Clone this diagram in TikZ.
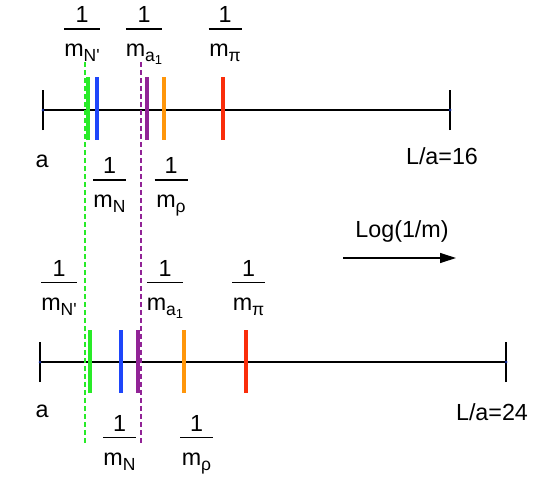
\documentclass[tikz,border=0pt]{standalone}
\usepackage{amsmath}
\usepackage{fontspec}
\setmainfont{Liberation Sans}
\usetikzlibrary{arrows.meta, positioning}

\definecolor{nprime}{RGB}{40,235,40}
\definecolor{nucleon}{RGB}{30,70,250}
\definecolor{aone}{RGB}{145,35,150}
\definecolor{rho}{RGB}{255,150,10}
\definecolor{pion}{RGB}{250,45,10}

% one over a mass, with a bar of fixed width
\newcommand{\invm}[1]{$\genfrac{}{}{1.3pt}{0}
    {\makebox[33pt]{\raisebox{-4.5pt}{1}}}
    {\raisebox{-4.5pt}{m\raisebox{-5pt}{\fontsize{17.5}{20}\selectfont #1}}}$}
\newcommand{\subone}{\raisebox{-3pt}{\fontsize{13}{15}\selectfont 1}}

\begin{document}
\begin{tikzpicture}[x=1pt, y=-1pt, font=\fontsize{23.3}{27}\selectfont,
    axis/.style={line width=1.2pt},
    massbar/.style={line width=4.8pt},
    guide/.style={line width=1.3pt, dash pattern=on 5pt off 3pt}]
    \useasboundingbox (0,0) rectangle (535,479);

    % L/a = 16
    \coordinate (Top Left)  at (43,110);
    \coordinate (Top Right) at (450,110);
    \draw[axis] (Top Left) -- (Top Right);
    \draw[axis] ([yshift=-20pt]Top Left) -- ([yshift=20pt]Top Left);
    \draw[axis] ([yshift=-20pt]Top Right) -- ([yshift=20pt]Top Right);
    \fill[nucleon!60!black] (Top Left) circle (1.5pt) (Top Right) circle (1.5pt);

    \draw[massbar, nprime]  (88,77)  -- (88,140);
    \draw[massbar, nucleon] (97,77)  -- (97,140);
    \draw[massbar, aone]    (147,77) -- (147,140);
    \draw[massbar, rho]     (164,77) -- (164,140);
    \draw[massbar, pion]    (223,77) -- (223,140);

    \node[anchor=base, inner sep=0pt] (Top NPrime) at (82,35.3)     {\invm{N\textquotesingle}};
    \node[anchor=base, inner sep=0pt] (Top A1)     at (144,35.3)    {\invm{a\subone}};
    \node[anchor=base, inner sep=0pt] (Top Pi)     at (225,35.3)    {\invm{π}};
    \node[anchor=base, inner sep=0pt] (Top N)      at (109.5,186.3) {\invm{N}};
    \node[anchor=base, inner sep=0pt] (Top Rho)    at (171,186.3)   {\invm{ρ}};
    \node[anchor=base] (Top a)      at (42,167)   {a};
    \node[anchor=base] (Top L)      at (442,164)  {L/a=16};

    % direction of the scale
    \node[anchor=base] (Scale) at (402,237) {Log(1/m)};
    \coordinate (Scale Start) at (343,258);
    \coordinate (Scale End)   at (456,258);
    \draw[line width=1.2pt, -{Triangle[length=16pt, width=10pt]}] (Scale Start) -- (Scale End);

    % L/a = 24
    \coordinate (Bottom Left)  at (40,362);
    \coordinate (Bottom Right) at (506,362);
    \draw[axis] (Bottom Left) -- (Bottom Right);
    \draw[axis] ([yshift=-20pt]Bottom Left) -- ([yshift=20pt]Bottom Left);
    \draw[axis] ([yshift=-20pt]Bottom Right) -- ([yshift=20pt]Bottom Right);
    \fill[nucleon!60!black] (Bottom Left) circle (1.5pt) (Bottom Right) circle (1.5pt);

    \draw[massbar, nprime]  (90,330)  -- (90,393);
    \draw[massbar, nucleon] (121,330) -- (121,393);
    \draw[massbar, aone]    (138,330) -- (138,393);
    \draw[massbar, rho]     (184,330) -- (184,393);
    \draw[massbar, pion]    (246,330) -- (246,393);

    \node[anchor=base, inner sep=0pt] (Bottom NPrime) at (59,288.8)    {\invm{N\textquotesingle}};
    \node[anchor=base, inner sep=0pt] (Bottom A1)     at (165,288.8)   {\invm{a\subone}};
    \node[anchor=base, inner sep=0pt] (Bottom Pi)     at (248.5,288.8) {\invm{π}};
    \node[anchor=base, inner sep=0pt] (Bottom N)      at (119.5,443.8) {\invm{N}};
    \node[anchor=base, inner sep=0pt] (Bottom Rho)    at (196.5,443.8) {\invm{ρ}};
    \node[anchor=base] (Bottom a)      at (42,417)    {a};
    \node[anchor=base] (Bottom L)      at (492,420)   {L/a=24};

    % guides
    \draw[guide, nprime] (85,62)  -- (85,445);
    \draw[guide, aone]   (141,62) -- (141,445);
\end{tikzpicture}
\end{document}
